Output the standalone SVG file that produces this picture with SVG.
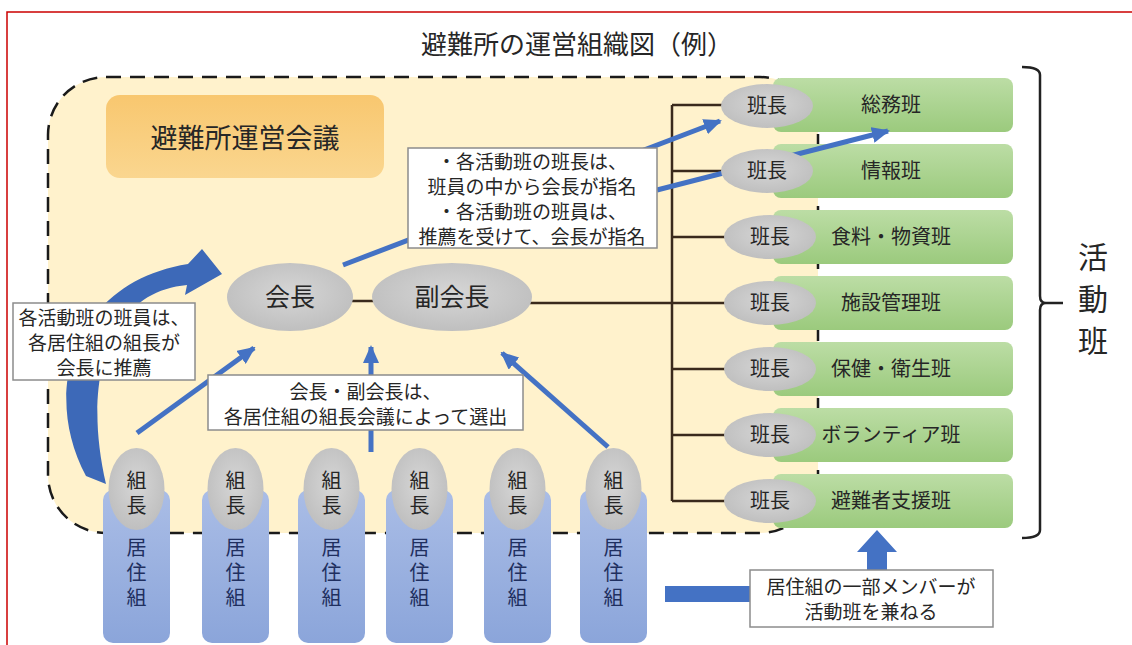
<svg xmlns="http://www.w3.org/2000/svg" width="1132" height="645" viewBox="0 0 1132 645">
<defs>
<style>
text{font-family:"Noto Sans CJK JP","Noto Sans CJK SC",sans-serif;fill:#262626;text-anchor:middle}
.t19{font-size:19px}
.t20{font-size:20px}
.tb{fill:#fff;stroke:#8c8c8c;stroke-width:1.5}
.conn{stroke:#3a2a1c;stroke-width:2.5;fill:none}
.arr{stroke:#4472c4;stroke-width:5;fill:none;marker-end:url(#ah)}
.gbox{fill:url(#gg)}
.gray{fill:url(#gr)}
.pill{fill:url(#pb)}
.vt{font-size:20px;writing-mode:vertical-rl;letter-spacing:5px}
.pt{fill:#1f2f5f}
.blue{fill:#4472c4}
</style>
<marker id="ah" markerUnits="userSpaceOnUse" viewBox="0 0 18 16" markerWidth="18" markerHeight="16" refX="16" refY="8" orient="auto">
<path d="M0,0 L18,8 L0,16 Z" fill="#4472c4"/>
</marker>
<linearGradient id="gg" x1="0" y1="0" x2="0" y2="1">
<stop offset="0" stop-color="#bcdda5"/>
<stop offset="1" stop-color="#9bca7d"/>
</linearGradient>
<radialGradient id="gr" cx="0.5" cy="0.45" r="0.6">
<stop offset="0" stop-color="#d6d6d6"/>
<stop offset="1" stop-color="#bdbdbd"/>
</radialGradient>
<linearGradient id="pb" x1="0" y1="0" x2="0" y2="1">
<stop offset="0" stop-color="#aabde6"/>
<stop offset="1" stop-color="#8ba5da"/>
</linearGradient>
<linearGradient id="og" x1="0" y1="0" x2="0" y2="1">
<stop offset="0" stop-color="#f8c76f"/>
<stop offset="1" stop-color="#fad68f"/>
</linearGradient>
</defs>

<rect x="0" y="0" width="1132" height="645" fill="#ffffff"/>
<path d="M7,645 L7,12 L1132,12" fill="none" stroke="#cc0000" stroke-width="1.5"/>

<text x="577" y="54" style="font-size:26px">避難所の運営組織図（例）</text>

<g id="shelter-area">
<rect x="48" y="77" width="770" height="456" rx="58" ry="58" fill="#fff2cc" stroke="#1a1a1a" stroke-width="2.5" stroke-dasharray="15 9"/>
</g>

<g id="council">
<rect x="106" y="95" width="278" height="83" rx="14" fill="url(#og)"/>
<text x="245" y="148" style="font-size:27px">避難所運営会議</text>
</g>

<g id="teams">
<rect class="gbox" x="773" y="78" width="240" height="54" rx="8"/>
<rect class="gbox" x="773" y="144" width="240" height="54" rx="8"/>
<rect class="gbox" x="773" y="210" width="240" height="54" rx="8"/>
<rect class="gbox" x="773" y="276" width="240" height="54" rx="8"/>
<rect class="gbox" x="773" y="342" width="240" height="54" rx="8"/>
<rect class="gbox" x="773" y="408" width="240" height="54" rx="8"/>
<rect class="gbox" x="773" y="474" width="240" height="54" rx="8"/>
<text class="t20" x="891" y="112">総務班</text>
<text class="t20" x="891" y="178">情報班</text>
<text class="t20" x="891" y="244">食料・物資班</text>
<text class="t20" x="891" y="310">施設管理班</text>
<text class="t20" x="891" y="376">保健・衛生班</text>
<text class="t20" x="891" y="442">ボランティア班</text>
<text class="t20" x="891" y="508">避難者支援班</text>
</g>

<g id="connectors">
<path class="conn" d="M672,105 L672,501 M672,105 L725,105 M672,171 L725,171 M672,237 L725,237 M672,303 L725,303 M672,369 L725,369 M672,435 L725,435 M672,501 L725,501 M530,303 L672,303 M352,301 L374,301"/>
<path d="M1022,67 Q1040,67 1040,75 L1040,296 Q1040,303 1046,303 L1063,303 M1046,303 Q1040,303 1040,310 L1040,530 Q1040,538 1022,538" fill="none" stroke="#222" stroke-width="2.5"/>
<line class="arr" x1="343" y1="265" x2="720" y2="121"/>
<line class="arr" x1="657" y1="190" x2="888" y2="131"/>
<line class="arr" x1="137" y1="433" x2="254" y2="348"/>
<line class="arr" x1="371" y1="452" x2="371" y2="347"/>
<line class="arr" x1="608" y1="447" x2="502" y2="353"/>
<path d="M86,476 C40,390 75,282 188,264 L202,249 L222,274 L185,295 L187,285 C108,292 82,380 106,484 Z" fill="#3d69b8"/>
<rect class="blue" x="665" y="586" width="90" height="16"/>
<path class="blue" d="M867,572 L867,552 L857,552 L877,530 L897,552 L887,552 L887,572 Z"/>
</g>

<g id="leaders">
<ellipse class="gray" cx="767" cy="106" rx="46" ry="22"/>
<ellipse class="gray" cx="767" cy="171" rx="46" ry="22"/>
<ellipse class="gray" cx="770" cy="237" rx="46" ry="22"/>
<ellipse class="gray" cx="770" cy="303" rx="46" ry="22"/>
<ellipse class="gray" cx="770" cy="369" rx="46" ry="22"/>
<ellipse class="gray" cx="770" cy="435" rx="46" ry="22"/>
<ellipse class="gray" cx="770" cy="501" rx="46" ry="22"/>
<text class="t20" x="767" y="113">班長</text>
<text class="t20" x="767" y="178">班長</text>
<text class="t20" x="770" y="244">班長</text>
<text class="t20" x="770" y="310">班長</text>
<text class="t20" x="770" y="376">班長</text>
<text class="t20" x="770" y="442">班長</text>
<text class="t20" x="770" y="508">班長</text>
</g>

<g id="chair">
<ellipse class="gray" cx="290" cy="297" rx="63" ry="34"/>
<text x="290" y="306" style="font-size:25px">会長</text>
</g>
<g id="vice-chair">
<ellipse class="gray" cx="452" cy="297" rx="80" ry="34"/>
<text x="452" y="306" style="font-size:25px">副会長</text>
</g>

<g id="groups">
<rect class="pill" x="103" y="490" width="67" height="153" rx="10"/>
<rect class="pill" x="202" y="490" width="67" height="153" rx="10"/>
<rect class="pill" x="298" y="490" width="67" height="153" rx="10"/>
<rect class="pill" x="386" y="490" width="67" height="153" rx="10"/>
<rect class="pill" x="484" y="490" width="67" height="153" rx="10"/>
<rect class="pill" x="580" y="490" width="67" height="153" rx="10"/>
<ellipse class="gray" cx="136.5" cy="489" rx="28" ry="41"/>
<ellipse class="gray" cx="235.5" cy="489" rx="28" ry="41"/>
<ellipse class="gray" cx="331.5" cy="489" rx="28" ry="41"/>
<ellipse class="gray" cx="419.5" cy="489" rx="28" ry="41"/>
<ellipse class="gray" cx="517.5" cy="489" rx="28" ry="41"/>
<ellipse class="gray" cx="613.5" cy="489" rx="28" ry="41"/>
<text class="vt" x="136.5" y="495">組長</text>
<text class="vt" x="235.5" y="495">組長</text>
<text class="vt" x="331.5" y="495">組長</text>
<text class="vt" x="419.5" y="495">組長</text>
<text class="vt" x="517.5" y="495">組長</text>
<text class="vt" x="613.5" y="495">組長</text>
<text class="vt pt" x="136.5" y="575">居住組</text>
<text class="vt pt" x="235.5" y="575">居住組</text>
<text class="vt pt" x="331.5" y="575">居住組</text>
<text class="vt pt" x="419.5" y="575">居住組</text>
<text class="vt pt" x="517.5" y="575">居住組</text>
<text class="vt pt" x="613.5" y="575">居住組</text>
</g>

<g id="note-appoint">
<rect class="tb" x="408" y="148" width="249" height="100"/>
<text class="t19" x="532" y="169">・各活動班の班長は、<tspan x="532" dy="25">班員の中から会長が指名</tspan><tspan x="532" dy="25">・各活動班の班員は、</tspan><tspan x="532" dy="25">推薦を受けて、会長が指名</tspan></text>
</g>
<g id="note-recommend">
<rect class="tb" x="13" y="303" width="182" height="77"/>
<text class="t19" x="104" y="325">各活動班の班員は、<tspan x="104" dy="25">各居住組の組長が</tspan><tspan x="104" dy="25">会長に推薦</tspan></text>
</g>
<g id="note-elect">
<rect class="tb" x="208" y="375" width="315" height="55"/>
<text class="t19" x="365.5" y="399">会長・副会長は、<tspan x="365.5" dy="25">各居住組の組長会議によって選出</tspan></text>
</g>
<g id="note-members">
<rect class="tb" x="750" y="570" width="243" height="57"/>
<text class="t19" x="871" y="594">居住組の一部メンバーが<tspan x="871" dy="25">活動班を兼ねる</tspan></text>
</g>

<g id="label-teams">
<text x="1093" y="305" style="font-size:30px;writing-mode:vertical-rl;letter-spacing:12px">活動班</text>
</g>
</svg>
